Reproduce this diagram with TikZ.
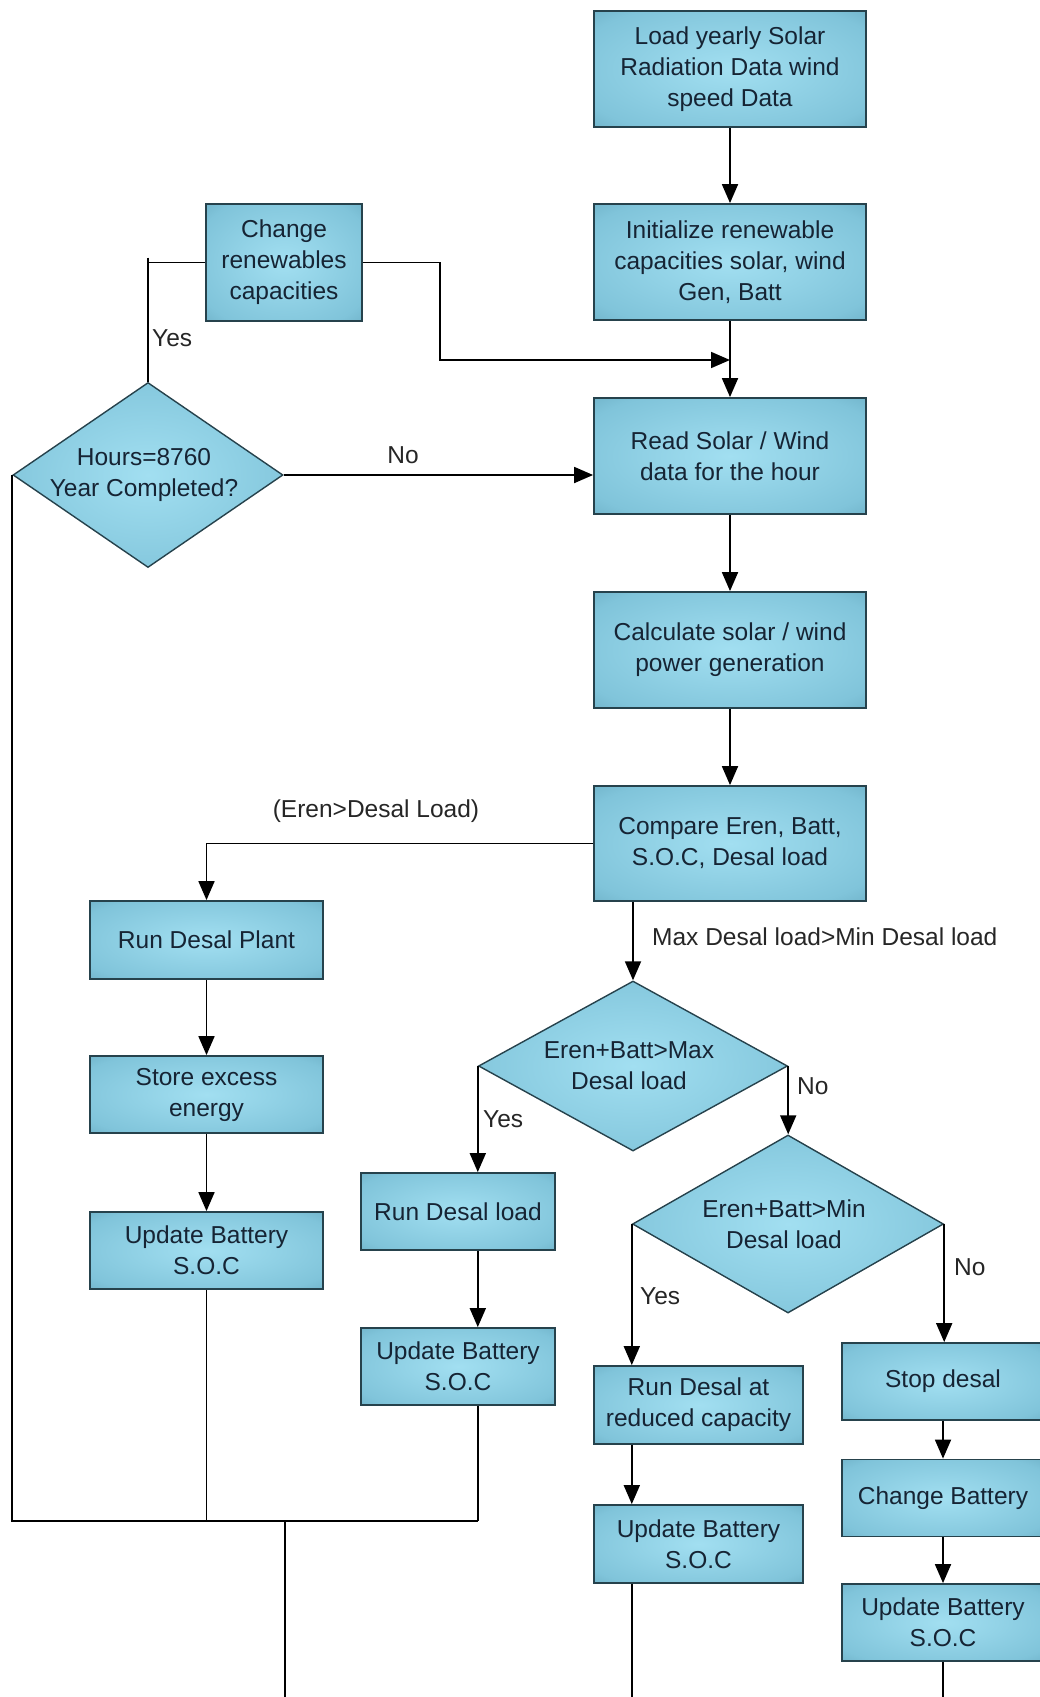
\documentclass[tikz,border=0pt]{standalone}
\usepackage{fontspec}
\setmainfont{Liberation Sans}
\usepackage{tikz}
\usetikzlibrary{shapes.geometric,arrows.meta,calc}

\definecolor{boxlight}{RGB}{162,223,241}
\definecolor{boxmid}{RGB}{128,196,218}
\definecolor{boxdark}{RGB}{82,147,170}
\definecolor{boxline}{RGB}{38,66,76}
\definecolor{boxtext}{RGB}{22,36,52}
\pgfdeclareradialshading{boxshade}{\pgfpoint{0bp}{0bp}}{color(0bp)=(boxlight); color(30bp)=(boxmid); color(50bp)=(boxdark); color(72bp)=(boxdark)}

\tikzset{
  procbox/.style={rectangle, draw=boxline, line width=1.8pt, shade, shading=boxshade, align=center, text=boxtext, font=\fontsize{24.5}{31}\selectfont},
  decision/.style={diamond, draw=boxline, line width=1.4pt, shade, shading=boxshade, inner sep=0pt},
  dectext/.style={align=center, text=boxtext, font=\fontsize{24.5}{31}\selectfont},
  lbl/.style={font=\fontsize{24.5}{31}\selectfont, text=black!85, inner sep=0pt},
  arr/.style={line width=1.8pt, -{Triangle[length=19pt,width=16pt]}},
  ln/.style={line width=1.8pt},
}

\begin{document}
\begin{tikzpicture}[x=1pt,y=1pt,yscale=-1]
\useasboundingbox (0,0) rectangle (1040,1697);
\clip (0,0) rectangle (1040,1697);

%Shape: main column
\node (load) [procbox, minimum width=272pt, minimum height=116pt] at (730,69) {Load yearly Solar\\Radiation Data wind\\speed Data};
\node (init) [procbox, minimum width=272pt, minimum height=116pt] at (730,262) {Initialize renewable\\capacities solar, wind\\Gen, Batt};
\node (change) [procbox, minimum width=156pt, minimum height=117pt] at (284,262.5) {Change\\renewables\\capacities};
\node (read) [procbox, minimum width=272pt, minimum height=116pt] at (730,456) {Read Solar / Wind\\data for the hour};
\node (calc) [procbox, minimum width=272pt, minimum height=116pt] at (730,650) {Calculate solar / wind\\power generation};
\node (compare) [procbox, minimum width=272pt, minimum height=115pt] at (730,843.5) {Compare Eren, Batt,\\S.O.C, Desal load};

%Shape: Diamond
\node (hours) [decision, minimum width=270pt, minimum height=185pt] at (148,475) {};
\node (hourstxt) [dectext] at ([xshift=-4pt]hours) {Hours=8760\\Year Completed?};
\node (maxdec) [decision, minimum width=309pt, minimum height=170pt] at (633,1066) {};
\node (maxdectxt) [dectext] at ([xshift=-4pt]maxdec) {Eren+Batt>Max\\Desal load};
\node (mindec) [decision, minimum width=311pt, minimum height=178pt] at (788,1224) {};
\node (mindectxt) [dectext] at ([xshift=-4pt]mindec) {Eren+Batt>Min\\Desal load};

%Shape: left column
\node (rundesal) [procbox, minimum width=233pt, minimum height=78pt] at (206.5,940) {Run Desal Plant};
\node (store) [procbox, minimum width=233pt, minimum height=77pt] at (206.5,1094.5) {Store excess\\energy};
\node (upd1) [procbox, minimum width=233pt, minimum height=77pt] at (206.5,1250.5) {Update Battery\\S.O.C};

%Shape: lower columns
\node (runload) [procbox, minimum width=194pt, minimum height=77pt] at (458,1211.5) {Run Desal load};
\node (upd2) [procbox, minimum width=194pt, minimum height=77pt] at (458,1366.5) {Update Battery\\S.O.C};
\node (runred) [procbox, minimum width=209pt, minimum height=78pt] at (698.5,1405) {Run Desal at\\reduced capacity};
\node (upd3) [procbox, minimum width=209pt, minimum height=78pt] at (698.5,1544) {Update Battery\\S.O.C};
\node (stop) [procbox, minimum width=202pt, minimum height=77pt] at (943,1381.5) {Stop desal};
\node (chbatt) [procbox, minimum width=202pt, minimum height=77pt] at (943,1498) {Change Battery};
\node (upd4) [procbox, minimum width=202pt, minimum height=77pt] at (943,1622.5) {Update Battery\\S.O.C};

\coordinate (join) at (730,360);
\coordinate (bus) at (478,1521);
\coordinate (exit) at (285,1697);

% connectors
\draw[arr] (load) -- (init);
\draw[arr] (init) -- (read);
\draw[arr] (change.east) -- ++(77,0) |- (join);
\draw[ln] (hours.north) |- (change.west);
\draw[ln] ([yshift=-5pt]hours.north |- change.west) -- (hours.north |- change.west);
\draw[arr] (hours.east) -- (read.west |- hours.east);
\draw[arr] (read) -- (calc);
\draw[arr] (calc) -- (compare);
\draw[arr] (compare.west) -| (rundesal.north);
\draw[arr] (rundesal) -- (store);
\draw[arr] (store) -- (upd1);
\draw[arr] (maxdec.north |- compare.south) -- (maxdec.north);
\draw[arr] (maxdec.west) -- (maxdec.west |- runload.north);
\draw[arr] (maxdec.west |- runload.south) -- (maxdec.west |- upd2.north);
\draw[arr] (maxdec.east) -- (maxdec.east |- mindec.north);
\draw[arr] (mindec.west) -- (mindec.west |- runred.north);
\draw[arr] (mindec.west |- runred.south) -- (mindec.west |- upd3.north);
\draw[arr] (mindec.east) -- (mindec.east |- stop.north);
\draw[arr] (stop) -- (chbatt);
\draw[arr] (chbatt) -- (upd4);

% return lines
\draw[ln] (hours.west) |- (bus);
\draw[ln] (upd1.south) -- (upd1.south |- bus);
\draw[ln] (bus |- upd2.south) -- (bus);
\draw[ln] (bus -| exit) -- (exit);
\draw[ln] (mindec.west |- upd3.south) -- ++(0,130);
\draw[ln] (upd4.south) -- ++(0,50);

% Text Node
\node (yes1) [lbl, anchor=west] at (152,338) {Yes};
\node (no1) [lbl] at (403,455) {No};
\node (cond1) [lbl] at (376,811) {(Eren>Desal Load)};
\node (cond2) [lbl, anchor=west] at (652,937) {Max Desal load>Min Desal load};
\node (yes2) [lbl, anchor=west] at (483,1119) {Yes};
\node (no2) [lbl, anchor=west] at (797,1086) {No};
\node (yes3) [lbl, anchor=west] at (640,1296) {Yes};
\node (no3) [lbl, anchor=west] at (954,1267) {No};
\end{tikzpicture}
\end{document}
